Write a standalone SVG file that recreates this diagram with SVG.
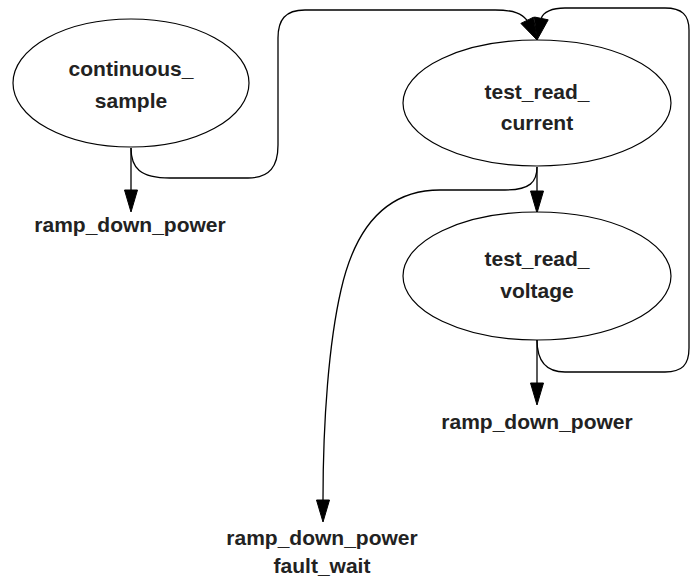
<svg xmlns="http://www.w3.org/2000/svg" width="691" height="580" viewBox="0 0 691 580">
<style>
.node ellipse{fill:#fff;stroke:#000;stroke-width:1.2}
text{font-family:"Liberation Sans",Arial,Helvetica,sans-serif;font-weight:bold;font-size:21px;fill:#222;text-anchor:middle}
.edge path{fill:none;stroke:#000;stroke-width:1.3}
.edge polygon{fill:#000;stroke:#000;stroke-width:1}
</style>
<rect width="691" height="580" fill="#fff"/>
<g id="connectors" class="edge">
<path d="M131,148 L131,190"/>
<polygon points="124.5,190 137.5,190 131,212"/>
<path d="M131,148 C131,168 140,178 170,178 L248,178 C270,178 278,166 278,145 L278,38 C278,20 285,10 305,10 L495,10 C515,10 522,14 527.2,20.3"/>
<polygon points="520.9,23.4 533.5,17.2 537,40"/>
<path d="M537,340 C537,360 545,372 565,372 L665,372 C682,372 689,365 689,348 L689,30 C689,15 682,8 665,8 L565,8 C552,8 543,12 541.3,18.4"/>
<polygon points="548.2,19.8 534.4,17.0 537,40"/>
<path d="M537,167 L537,191"/>
<polygon points="530.5,191 543.5,191 537,213"/>
<path d="M537,167 C537,182 530,190 505,190 L440,190 C385,190 355,228 341,290 C329,342 323,420 323,500"/>
<polygon points="316.5,500 329.5,500 323,522"/>
<path d="M537,340 L537,383"/>
<polygon points="530.5,383 543.5,383 537,405"/>
</g>
<g id="continuous_sample" class="node">
<ellipse cx="131" cy="83" rx="118" ry="64"/>
<text x="131" y="76">continuous_</text>
<text x="131" y="108">sample</text>
</g>
<g id="test_read_current" class="node">
<ellipse cx="537" cy="103" rx="134" ry="63"/>
<text x="537" y="99">test_read_</text>
<text x="537" y="130">current</text>
</g>
<g id="test_read_voltage" class="node">
<ellipse cx="537" cy="276" rx="134" ry="64"/>
<text x="537" y="266">test_read_</text>
<text x="537" y="298">voltage</text>
</g>
<g id="ramp_down_power_1">
<text x="130" y="232">ramp_down_power</text>
</g>
<g id="ramp_down_power_2">
<text x="537" y="429">ramp_down_power</text>
</g>
<g id="ramp_down_power_fault_wait">
<text x="322" y="545">ramp_down_power</text>
<text x="322" y="573">fault_wait</text>
</g>
</svg>
